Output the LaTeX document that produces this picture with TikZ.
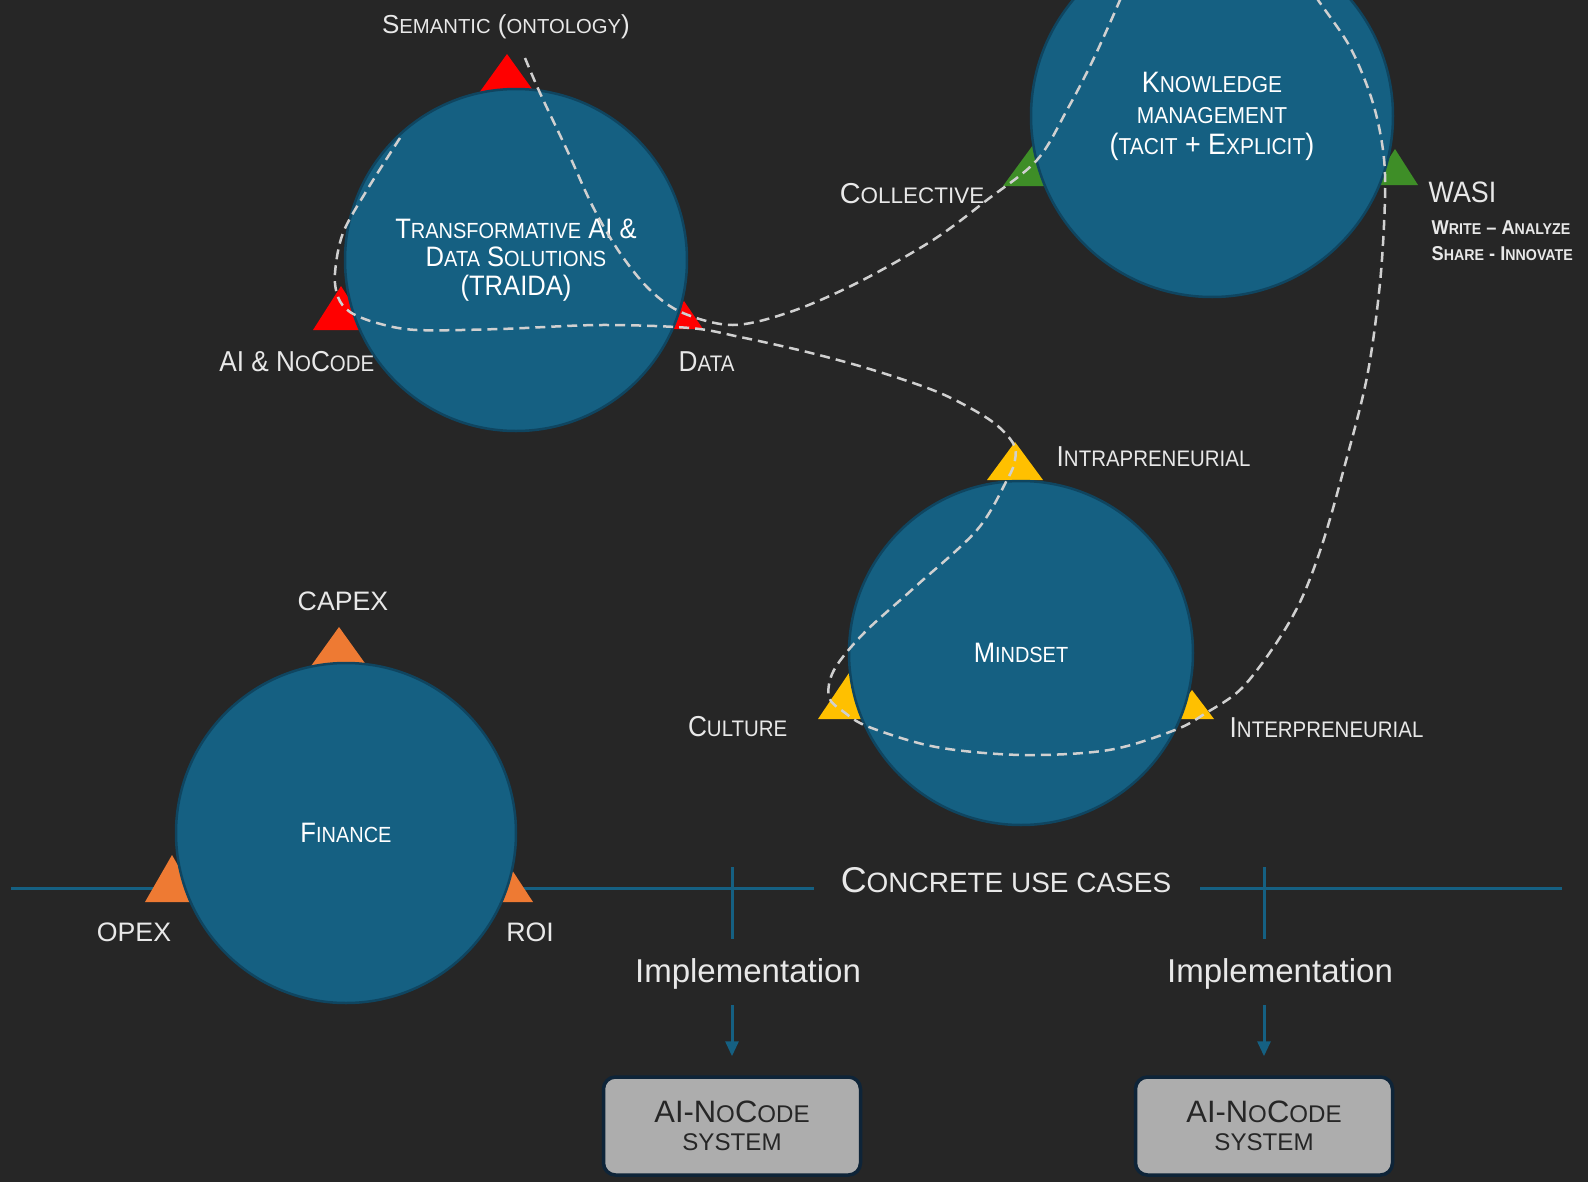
\documentclass[tikz,border=0pt]{standalone}
\usepackage{fontspec}
\setmainfont{Liberation Sans}
\newfontfamily\capfont[FakeStretch=0.91]{Liberation Sans}
\usepackage{scalefnt}
\usetikzlibrary{arrows.meta}

\definecolor{bgdark}{HTML}{262626}
\definecolor{orbblue}{HTML}{156082}
\definecolor{orbrim}{HTML}{0F4560}
\definecolor{trailgray}{HTML}{D0D0D0}
\definecolor{labelgray}{HTML}{E8E8E8}
\definecolor{pinred}{HTML}{FF0000}
\definecolor{pingreen}{HTML}{3E8E27}
\definecolor{pinyellow}{HTML}{FFC000}
\definecolor{pinorange}{HTML}{EE7A33}
\definecolor{boxgray}{HTML}{ADADAD}
\definecolor{boxrim}{HTML}{0E2438}

% fake small caps: lower-case part set smaller
\newcommand\lc[1]{{\scalefont{0.78}#1}}
% pin: colour, apex x, apex y, height, half width
\newcommand\pin[5]{\fill[#1] (#2,#3) -- ++(-#5,#4) -- ++(2*#5,0) -- cycle;}

\tikzset{
  lbl/.style={text=labelgray, inner sep=0pt, font=\capfont\fontsize{8.2}{9.8}\selectfont},
  orb/.style={circle, fill=orbblue, draw=orbrim, line width=0.25mm, inner sep=0pt,
    text=white, align=center, font=\capfont\fontsize{8}{8.1}\selectfont},
  trail/.style={draw=trailgray, line width=0.25mm, dash pattern=on 1mm off 0.6mm},
  rail/.style={draw=orbblue, line width=0.3mm},
  flow/.style={rail, -{Triangle[length=1.5mm,width=1.3mm]}},
  sysbox/.style={rounded corners=1.2mm, fill=boxgray, draw=boxrim, line width=0.35mm,
    minimum width=25.7mm, minimum height=9.8mm, inner sep=0pt, text=black!85,
    align=center, font=\fontsize{8.8}{8}\selectfont},
}

\begin{document}
\begin{tikzpicture}[x=0.1mm,y=-0.1mm]
\clip (0,0) rectangle (1588,1182);
\fill[bgdark] (0,0) rectangle (1588,1182);

% use-case rail
\coordinate (railW) at (11,888);
\coordinate (railWe) at (814,888);
\coordinate (railEs) at (1200,888);
\coordinate (railE) at (1562,888);
\draw[rail] (railW) -- (railWe);
\draw[rail] (railEs) -- (railE);

% pins
\pin{pinred}{507}{54}{46}{33}
\pin{pinred}{341}{286}{44}{28}
\pin{pinred}{684}{301}{28}{19}
\pin{pingreen}{1033}{145}{41}{30}
\pin{pingreen}{1395}{149}{36}{23}
\pin{pinyellow}{1015}{442}{38}{28}
\pin{pinyellow}{849}{673}{46}{31}
\pin{pinyellow}{1192}{690}{29}{22}
\pin{pinorange}{339}{627}{46}{33}
\pin{pinorange}{172}{855}{47}{27}
\pin{pinorange}{512}{870}{32}{21}

% circles
\node[orb, minimum size=34.2mm] (traida) at (516,260)
  {T\lc{RANSFORMATIVE} AI \&\\ D\lc{ATA} S\lc{OLUTIONS}\\ (TRAIDA)};
\node[orb, minimum size=36.2mm, font=\capfont\fontsize{8.4}{8.8}\selectfont] (km) at (1212,116)
  {K\lc{NOWLEDGE}\\ \lc{MANAGEMENT}\\ (\lc{TACIT} + E\lc{XPLICIT})};
\node[orb, minimum size=34.4mm] (mindset) at (1021,653) {M\lc{INDSET}};
\node[orb, minimum size=34mm] (finance) at (346,833) {F\lc{INANCE}};

% trails
\draw[trail] plot[smooth, tension=0.55] coordinates {(525,58) (540,93) (567,150)
  (593,207) (620,253) (650,290) (683,313) (733,325) (790,312) (857,283) (933,240)
  (987,200) (1037,160) (1067,110) (1093,60) (1120,0) (1127,-20)};
\draw[trail] plot[smooth, tension=0.55] coordinates {(400,138) (367,190) (343,233)
  (335,273) (338,297) (350,312) (377,323) (417,330) (500,329) (600,325) (690,328)
  (740,337) (807,352) (873,370) (940,393) (990,420) (1013,443) (1015,460) (1007,480)
  (977,530) (915,587) (864,633) (834,670) (829,697) (844,712) (869,727) (936,747)
  (1022,755) (1109,750) (1175,730) (1206,713) (1241,689) (1275,645) (1301,600)
  (1322,545) (1343,472) (1367,377) (1380,283) (1385,198) (1383,150) (1372,100)
  (1350,47) (1318,0) (1305,-20)};

% labels
\node[lbl, font=\fontsize{7.4}{8}\selectfont] (semantic) at (506,27) {S\lc{EMANTIC} (\lc{ONTOLOGY})};
\node[lbl, anchor=east] (nocode) at (375,362) {AI \& N\lc{O}C\lc{ODE}};
\node[lbl, anchor=west] (data) at (678,362) {D\lc{ATA}};
\node[lbl, anchor=east, font=\fontsize{8.2}{9.8}\selectfont] (collective) at (985,194) {C\lc{OLLECTIVE}};
\node[lbl, anchor=west, font=\capfont\fontsize{8.4}{9}\selectfont] (wasi) at (1428,192) {WASI};
\node[lbl, anchor=west, font=\capfont\fontsize{5.7}{7}\bfseries] (wasiA) at (1431,228) {W\lc{RITE} – A\lc{NALYZE}};
\node[lbl, anchor=west, font=\capfont\fontsize{5.7}{7}\bfseries] (wasiB) at (1431,254) {S\lc{HARE} - I\lc{NNOVATE}};
\node[lbl, anchor=west] (intra) at (1056,457) {I\lc{NTRAPRENEURIAL}};
\node[lbl, anchor=east] (culture) at (788,727) {C\lc{ULTURE}};
\node[lbl, anchor=west] (inter) at (1229,728) {I\lc{NTERPRENEURIAL}};
\node[lbl, font=\fontsize{7.6}{9}\selectfont] (capex) at (343,601) {CAPEX};
\node[lbl, font=\fontsize{7.6}{9}\selectfont] (opex) at (134,932) {OPEX};
\node[lbl, font=\fontsize{7.6}{9}\selectfont] (roi) at (530,932) {ROI};

% concrete use cases
\node[lbl, font=\fontsize{10.2}{11}\selectfont] (cases) at (1006,880) {C\lc{ONCRETE USE CASES}};
\coordinate (tickA) at (732,867);
\coordinate (tickB) at (1264,867);
\node[lbl, font=\fontsize{9.4}{10}\selectfont] (impA) at (748,974) {Implementation};
\node[lbl, font=\fontsize{9.4}{10}\selectfont] (impB) at (1280,974) {Implementation};
\node[sysbox] (sysA) at (732,1126) {AI-N\lc{O}C\lc{ODE}\\ \lc{SYSTEM}};
\node[sysbox] (sysB) at (1264,1126) {AI-N\lc{O}C\lc{ODE}\\ \lc{SYSTEM}};
\draw[rail, shorten >=1.9mm] (tickA) -- (tickA |- impA.north);
\draw[rail, shorten >=1.9mm] (tickB) -- (tickB |- impB.north);
\draw[flow, shorten <=1.5mm, shorten >=1.9mm] (sysA |- impA.south) -- (sysA.north);
\draw[flow, shorten <=1.5mm, shorten >=1.9mm] (sysB |- impB.south) -- (sysB.north);
\end{tikzpicture}
\end{document}
